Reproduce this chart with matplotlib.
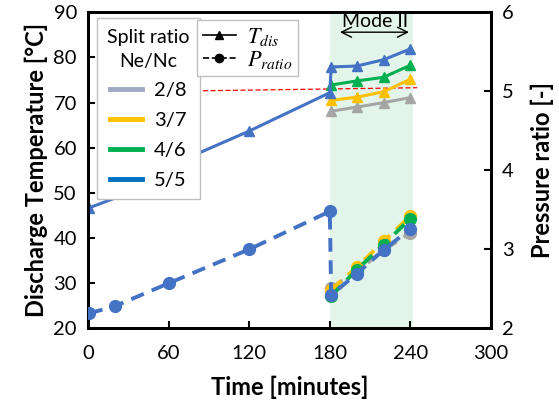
import matplotlib
matplotlib.use('Agg')
import matplotlib.pyplot as plt
from matplotlib.lines import Line2D

plt.rcParams['font.family'] = ['Lato', 'DejaVu Sans']
plt.rcParams['mathtext.fontset'] = 'stix'

# Data
split_labels = ['2/8', '3/7', '4/6', '5/5']
line_colors = ['#A5A5A5', '#FFC000', '#00B050', '#4472C4']
legend_colors = ['#9FAAC2', '#FFC000', '#00B050', '#0070C0']

# mode I (only 5/5 runs in mode I)
t_T_mode1 = [1, 40, 60, 120, 180]
T_mode1 = [46.7, 51.1, 55.9, 63.7, 72.2]
t_P_mode1 = [1, 20, 60, 120, 180]
P_mode1 = [2.19, 2.28, 2.57, 3.00, 3.48]

# mode II
t_mode2 = [181, 200, 220, 240]
T_mode2 = {
    '2/8': [68.1, 69.0, 70.0, 71.1],
    '3/7': [70.5, 71.2, 72.4, 75.2],
    '4/6': [73.9, 74.8, 75.6, 78.3],
    '5/5': [77.9, 78.1, 79.5, 81.9],
}
P_mode2 = {
    '2/8': [2.51, 2.72, 2.99, 3.21],
    '3/7': [2.49, 2.77, 3.10, 3.42],
    '4/6': [2.41, 2.74, 3.06, 3.39],
    '5/5': [2.42, 2.69, 2.99, 3.26],
}

limit_t = [80, 245]
limit_T = [72.6, 73.3]

mode2_span = [180, 242]

fig = plt.figure(figsize=(5.59, 4.11), dpi=100)
ax = fig.add_axes([0.1574, 0.2012, 0.7210, 0.7688])
ax2 = ax.twinx()

# Mode II background
ax.axvspan(mode2_span[0], mode2_span[1], color='#E3F5EA', lw=0, zorder=0)

# Temperature lines (left axis)
for lab, col in zip(split_labels, line_colors):
    if lab == '5/5':
        tt = t_T_mode1 + t_mode2
        yy = T_mode1 + T_mode2[lab]
    else:
        tt = t_mode2
        yy = T_mode2[lab]
    ax.plot(tt, yy, color=col, lw=2.2, marker='^', ms=7, zorder=3)

# limit line
ax.plot(limit_t, limit_T, color='red', lw=0.9, ls=(0, (4, 2)), zorder=2)

# Pressure ratio lines (right axis)
for lab, col in zip(split_labels, line_colors):
    if lab == '5/5':
        tt = t_P_mode1 + t_mode2
        yy = P_mode1 + P_mode2[lab]
    else:
        tt = t_mode2
        yy = P_mode2[lab]
    ax2.plot(tt, yy, color=col, lw=2.8, ls=(0, (3.5, 2.2)), marker='o', ms=8.5, zorder=3)

# Axes
ax.set_xlim(0, 300)
ax.set_ylim(20, 90)
ax2.set_ylim(2, 6)
ax.set_xticks([0, 60, 120, 180, 240, 300])
ax.set_yticks(range(20, 91, 10))
ax2.set_yticks([2, 3, 4, 5, 6])

for a in (ax, ax2):
    for s in a.spines.values():
        s.set_linewidth(2)
    a.tick_params(direction='in', length=5, width=1.5, labelsize=14.5, pad=8)
ax.tick_params(axis='x', pad=12)

ax.set_xlabel('Time [minutes]', fontsize=17, fontweight='bold', labelpad=10)
ax.set_ylabel('Discharge Temperature [°C]', fontsize=17, fontweight='bold', labelpad=4)
ax2.set_ylabel('Pressure ratio [-]', fontsize=17, fontweight='bold', labelpad=12)

# Mode II annotation
ax.annotate('', xy=(185.5, 85.6), xytext=(241, 85.6),
            arrowprops=dict(arrowstyle='<->', color='black', lw=1, mutation_scale=18))
ax.text(214, 88.0, 'Mode II', ha='center', va='center', fontsize=14)

# Legends
h1 = [Line2D([0], [0], color=c, lw=3.5) for c in legend_colors]
leg1 = ax2.legend(h1, split_labels, title='Split ratio\nNe/Nc', loc='upper left',
                  bbox_to_anchor=(0.1735, 0.955), bbox_transform=fig.transFigure,
                  borderaxespad=0, fontsize=14.5, title_fontsize=14, fancybox=False,
                  edgecolor='#BFBFBF', framealpha=1, handlelength=1.6,
                  labelspacing=0.63, handletextpad=0.6, borderpad=0.5)
leg1.get_frame().set_linewidth(1)
leg1.get_title().set_multialignment('center')
leg1.get_title().set_linespacing(1.5)
ax2.add_artist(leg1)

h2 = [Line2D([0], [0], color='black', lw=1.2, marker='^', ms=6),
      Line2D([0], [0], color='black', lw=1.2, ls='--', marker='o', ms=6)]
leg2 = ax2.legend(h2, ['$T_{dis}$', '$P_{ratio}$'], loc='upper left',
                  bbox_to_anchor=(0.3524, 0.951), bbox_transform=fig.transFigure,
                  borderaxespad=0, fontsize=16, fancybox=False,
                  edgecolor='#BFBFBF', framealpha=1, handlelength=1.5,
                  labelspacing=0.05, handletextpad=0.5, borderpad=0.25)
leg2.get_frame().set_linewidth(1)

fig.savefig('out.png', dpi=100)
